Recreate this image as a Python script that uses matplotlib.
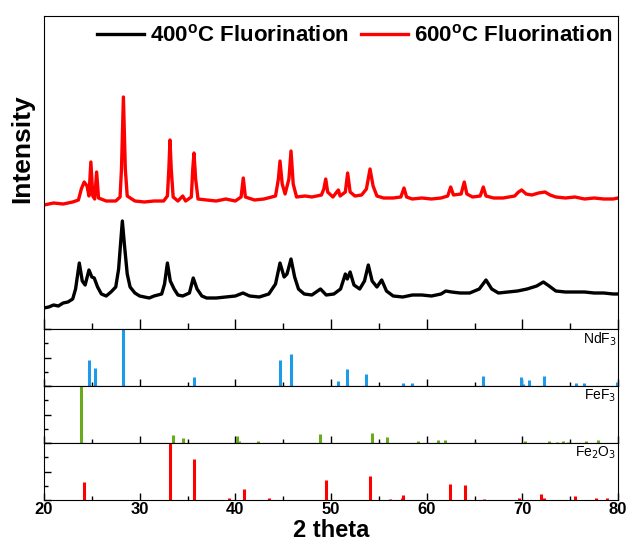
import matplotlib
matplotlib.use("Agg")
import matplotlib.pyplot as plt
from matplotlib.ticker import MultipleLocator

plt.rcParams["font.family"] = ["Liberation Sans", "DejaVu Sans"]

# XRD pattern, 600 C fluorination (2theta, intensity a.u.)
t600 = [20.0, 21.0, 22.0, 23.0, 23.6, 23.9, 24.2, 24.5, 24.7, 24.9, 25.1, 25.3, 25.5, 25.7,
        26.5, 27.5, 27.95, 28.1, 28.3, 28.5, 28.7, 29.5, 30.5, 31.5, 32.5, 32.9, 33.05, 33.17,
        33.3, 33.5, 34.0, 34.5, 34.8, 35.4, 35.55, 35.68, 35.85, 36.1, 37.0, 38.0, 39.0, 40.0,
        40.6, 40.83, 41.05, 42.0, 43.0, 44.2, 44.5, 44.67, 44.9, 45.2, 45.6, 45.82, 46.05, 46.4,
        47.3, 48.0, 49.0, 49.25, 49.45, 49.65, 50.2, 50.6, 50.77, 50.95, 51.5, 51.74, 52.0, 52.5,
        53.2, 53.7, 54.08, 54.4, 54.8, 55.5, 56.5, 57.3, 57.63, 57.9, 58.5, 59.5, 60.5, 61.5,
        62.2, 62.51, 62.8, 63.6, 63.93, 64.2, 64.8, 65.6, 65.92, 66.2, 67.0, 68.0, 69.2, 69.6,
        69.93, 70.4, 71.0, 71.7, 72.37, 72.9, 73.5, 74.5, 75.5, 76.5, 77.5, 78.5, 79.5, 80.0]
i600 = [124, 126, 125, 127, 129, 140, 147, 143, 133, 167, 133, 130, 157, 131,
        128, 128, 132, 160, 232, 160, 133, 128, 127, 128, 128, 133, 160, 189,
        160, 132, 128, 133, 128, 132, 160, 176, 150, 130, 129, 128, 130, 128,
        132, 151, 132, 129, 130, 133, 150, 168, 145, 135, 150, 178, 145, 132,
        133, 132, 134, 140, 150, 137, 132, 137, 139, 133, 137, 156, 137, 133,
        134, 140, 160, 143, 133, 131, 131, 132, 141, 132, 130, 131, 130, 131,
        133, 142, 134, 135, 147, 135, 132, 133, 142, 133, 131, 131, 133, 137,
        139, 135, 134, 136, 137, 134, 132, 131, 132, 130, 131, 130, 130, 131]

# XRD pattern, 400 C fluorination
t400 = [20.0, 20.5, 21.0, 21.5, 22.0, 22.5, 23.0, 23.3, 23.69, 24.0, 24.3, 24.7, 25.0, 25.25,
        25.6, 26.0, 26.5, 27.0, 27.5, 27.8, 28.0, 28.19, 28.4, 28.7, 29.0, 29.5, 30.0, 31.0,
        31.5, 32.3, 32.6, 32.9, 33.2, 33.6, 34.0, 34.5, 35.2, 35.6, 36.0, 36.5, 37.0, 38.0,
        39.0, 40.0, 40.8, 41.5, 42.5, 43.5, 44.2, 44.67, 45.1, 45.4, 45.82, 46.2, 46.6, 47.2,
        48.0, 48.9, 49.5, 50.3, 51.0, 51.5, 51.7, 52.0, 52.4, 53.0, 53.5, 53.9, 54.3, 54.8,
        55.3, 55.8, 56.5, 57.5, 58.5, 59.5, 60.5, 61.5, 62.0, 62.6, 63.5, 64.5, 65.5, 66.2,
        66.8, 67.5, 68.5, 69.5, 70.5, 71.5, 72.2, 72.8, 73.5, 74.5, 75.5, 76.5, 77.5, 78.5,
        79.5, 80.0]
i400 = [21, 22, 24, 23, 26, 27, 30, 40, 66, 48, 44, 59, 52, 51,
        42, 35, 33, 37, 42, 60, 85, 108, 85, 55, 42, 36, 33, 31,
        33, 35, 45, 66, 48, 40, 34, 33, 36, 51, 40, 33, 31, 31,
        32, 33, 36, 33, 32, 35, 45, 66, 52, 55, 70, 52, 40, 35,
        34, 40, 34, 35, 40, 55, 50, 57, 44, 40, 48, 64, 48, 42,
        49, 38, 33, 32, 34, 34, 33, 35, 38, 37, 36, 36, 40, 49,
        40, 36, 37, 38, 40, 43, 47, 43, 38, 37, 37, 37, 36, 36,
        35, 35]

# reference patterns (2theta, relative intensity %)
ndf3_pos = [24.74, 25.3, 28.26, 35.68, 44.63, 45.78, 50.7, 51.71, 53.66, 57.56, 58.43,
            65.85, 69.86, 70.1, 70.73, 72.3, 75.6, 76.4, 79.9]
ndf3_int = [46, 31, 100, 15, 46, 56, 9, 30, 21, 6, 5, 18, 15, 4, 11, 18, 5, 5, 7]

fef3_pos = [23.83, 33.45, 34.5, 40.2, 40.4, 42.4, 48.85, 54.32, 55.82, 59.1, 61.2, 61.9,
            65.05, 70.3, 72.8, 73.6, 74.2, 74.8, 76.7, 77.95]
fef3_int = [100, 14, 8, 12, 4, 3, 15, 17, 10, 3, 5, 5, 2, 4, 3, 2, 3, 2, 3, 5]

fe2o3_pos = [24.14, 33.17, 35.64, 39.3, 40.87, 43.55, 49.48, 54.09, 56.2, 57.4, 57.55,
             62.45, 64.0, 66.0, 69.6, 71.95, 72.3, 75.5, 77.75, 78.8]
fe2o3_int = [32, 100, 72, 3, 20, 3, 35, 42, 2, 4, 9, 28, 27, 2, 4, 10, 4, 7, 3, 3]

fig = plt.figure(figsize=(6.27, 5.43), dpi=100)
L, W = 44 / 627, 574 / 627
ax = fig.add_axes([L, 1 - 329 / 543, W, 313 / 543])
ax_nd = fig.add_axes([L, 1 - 386 / 543, W, 57 / 543])
ax_fe = fig.add_axes([L, 1 - 443 / 543, W, 57 / 543])
ax_fo = fig.add_axes([L, 1 - 500 / 543, W, 57 / 543])

ax.plot(t400, i400, color="black", lw=2.4, label="400$^\\mathregular{o}$C Fluorination")
ax.plot(t600, i600, color="red", lw=2.4, label="600$^\\mathregular{o}$C Fluorination")
ax.set_xlim(20, 80)
ax.set_ylim(0, 313)
ax.set_yticks([])
ax.xaxis.set_major_locator(MultipleLocator(10))
ax.xaxis.set_minor_locator(MultipleLocator(5))
ax.tick_params(axis="x", which="both", direction="in", labelbottom=False)
ax.tick_params(axis="x", which="major", length=7, width=1)
ax.tick_params(axis="x", which="minor", length=4, width=1)
leg = ax.legend(loc="upper right", ncol=2, frameon=False, bbox_to_anchor=(1.006, 1.0),
                prop={"weight": "bold", "size": 16}, handlelength=2.1,
                handletextpad=0.28, columnspacing=0.55, borderaxespad=0.0)

panels = [(ax_nd, ndf3_pos, ndf3_int, "#1e9be8", "NdF$_3$"),
          (ax_fe, fef3_pos, fef3_int, "#6aaa1e", "FeF$_3$"),
          (ax_fo, fe2o3_pos, fe2o3_int, "#ff0000", "Fe$_2$O$_3$")]
for a, pos, inten, col, name in panels:
    a.vlines(pos, 0, inten, color=col, lw=2.2)
    a.set_xlim(20, 80)
    a.set_ylim(0, 100)
    a.xaxis.set_major_locator(MultipleLocator(10))
    a.xaxis.set_minor_locator(MultipleLocator(5))
    a.yaxis.set_major_locator(MultipleLocator(50))
    a.yaxis.set_minor_locator(MultipleLocator(25))
    a.tick_params(which="both", direction="in", labelleft=False, labelbottom=False)
    a.tick_params(which="major", length=5, width=1)
    a.tick_params(which="minor", length=3, width=1)
    a.text(0.997, 0.97, name, transform=a.transAxes, ha="right", va="top", fontsize=10)

ax_fo.tick_params(axis="x", labelbottom=True, labelsize=12, pad=1.5)
for lab in ax_fo.get_xticklabels():
    lab.set_fontweight("bold")

fig.text(0.5 * (44 + 618) / 627, 1 - 542 / 543, "2 theta", ha="center", va="bottom",
         fontsize=17, fontweight="bold")
fig.text(22 / 627, 1 - 149 / 543, "Intensity", ha="center", va="center", rotation=90,
         fontsize=19, fontweight="bold")

fig.savefig("out.png", dpi=100)
